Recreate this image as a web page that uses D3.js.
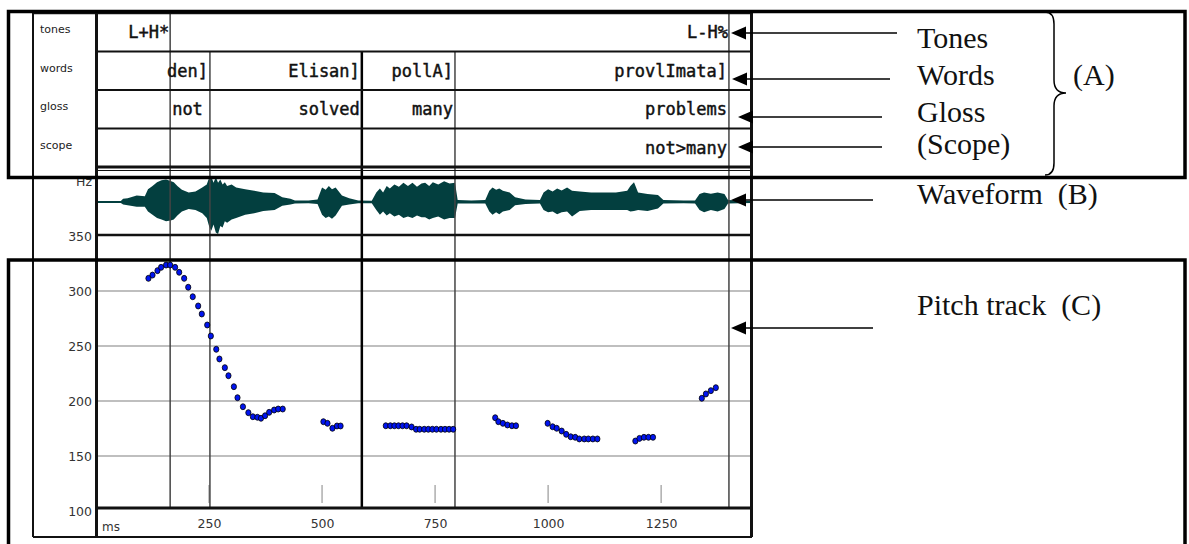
<!DOCTYPE html>
<html>
<head>
<meta charset="utf-8">
<script src="https://cdn.jsdelivr.net/npm/d3@7"></script>
<style>
body { margin: 0; background: #fff; }
svg { display: block; }
</style>
</head>
<body>
<div id="chart"></div>
<script>
// pitch track (ms, Hz)
let pitchMs = [116,125,136,144,155,164,175,184,195,204,214,226,234,246,254,266,273,285,293,305,313,325,337,347,357,365,374,383,394,403,413,
    503,512,523,533,541,
    641,651,660,669,678,687,698,708,716,726,735,744,753,763,772,781,790,
    883,890,900,910,920,929,
    999,1010,1019,1030,1040,1050,1060,1069,1080,1089,1099,1109,
    1193,1202,1212,1222,1232,
    1340,1349,1360,1371];
let pitchHz = [311.5,314.5,318.5,321.5,323.6,323.6,321.5,317,311.5,303.4,294.8,286.4,279.1,269.1,259.1,247,238.2,230.3,223,213,203,194.8,189.4,185.7,185.2,184.3,186.6,189.7,191.8,192.7,192.7,
    181.2,179.7,175.2,177.3,177.3,
    177.5,177.5,177.5,177.5,177.5,177.5,176.4,174.3,174.3,174.3,174.3,174.3,174.3,174.3,174.3,174.3,174.3,
    184.8,181.2,179.7,178.2,177.5,177.5,
    179.7,176.6,175.2,172.7,169.7,167.5,167,165.5,165.5,165.5,165.5,165.5,
    163.6,166,167,167,167,
    202.5,206.4,209.4,212.1];

// waveform envelope (relative amplitude, up / down)
let waveMs   = [0,55,60,70,90,108,115,125,135,145,155,165,172,180,190,205,220,235,245,250,255,260,265,270,275,280,285,290,300,310,330,350,370,395,412,430,440,470,490,500,508,515,522,530,544,560,580,610,620,628,635,643,650,660,670,680,690,700,710,720,728,737,745,757,770,782,794,800,830,861,870,877,885,892,900,915,927,950,982,990,1000,1010,1020,1030,1042,1053,1070,1095,1126,1150,1175,1182,1190,1199,1220,1243,1255,1300,1325,1335,1345,1360,1375,1390,1398,1451];
let waveUp   = [.03,.03,.1,.12,.2,.18,.4,.5,.62,.68,.7,.66,.62,.5,.38,.3,.33,.45,.55,.75,.8,.6,.78,.6,.7,.55,.62,.5,.55,.45,.4,.35,.3,.28,.15,.1,.05,.05,.08,.45,.38,.5,.4,.45,.2,.12,.05,.04,.3,.42,.3,.5,.42,.55,.48,.6,.5,.6,.48,.58,.6,.5,.62,.55,.65,.58,.6,.06,.05,.06,.35,.45,.38,.42,.35,.3,.15,.08,.06,.3,.4,.33,.42,.36,.45,.35,.33,.3,.3,.3,.35,.5,.62,.3,.25,.22,.06,.05,.05,.25,.3,.26,.3,.25,.06,.03];
let waveDown = [.03,.03,.08,.1,.15,.15,.3,.4,.5,.55,.6,.58,.55,.42,.3,.22,.25,.35,.5,.75,.9,.7,.95,1.0,.75,.8,.6,.65,.55,.5,.4,.35,.28,.25,.12,.08,.05,.04,.06,.4,.5,.45,.52,.42,.12,.08,.04,.04,.25,.4,.3,.42,.35,.45,.4,.5,.45,.5,.42,.48,.48,.55,.5,.45,.55,.5,.5,.05,.05,.05,.3,.4,.32,.38,.3,.25,.1,.06,.05,.25,.32,.3,.38,.32,.3,.45,.28,.25,.25,.25,.25,.3,.28,.25,.28,.2,.05,.04,.05,.25,.32,.25,.3,.22,.05,.03];

// text grid
let tierNames   = ["tones", "words", "gloss", "scope"];
let toneTimes   = [164, 1400];
let toneLabels  = ["L+H*", "L-H%"];
let wordBounds  = [164, 252, 588, 794, 1400];
let wordLabels  = ["den]", "Elisan]", "pollA]", "provlImata]"];
let glossLabels = ["not", "solved", "many", "problems"];
let scopeLabels = ["", "", "", "not>many"];

let hzTicks = [350, 300, 250, 200, 150, 100];
let msTicks = [250, 500, 750, 1000, 1250];

let notes = ["Tones", "Words", "Gloss", "(Scope)", "Waveform  (B)", "Pitch track  (C)"];


let svg = d3.select("#chart").append("svg")
    .attr("width", 1189)
    .attr("height", 544);

svg.append("rect").attr("width", 1189).attr("height", 544).attr("fill", "#fff");

let x = d3.scaleLinear().domain([0, 1451]).range([96, 752]);
let yHz = d3.scaleLinear().domain([100, 350]).range([511, 236]);
let yWave = d3.scaleLinear().domain([-1, 1]).range([234, 170]);
let row = d3.scaleBand().domain(tierNames).range([13, 167]);

// pitch grid lines
svg.append("g").selectAll("line")
    .data(hzTicks.filter(d => d > 100 && d < 350))
    .enter().append("line")
    .attr("x1", 97).attr("x2", 752)
    .attr("y1", d => yHz(d)).attr("y2", d => yHz(d))
    .attr("stroke", "#aaa").attr("stroke-width", 1.5);

// small time ticks inside the pitch panel
svg.append("g").selectAll("line")
    .data(msTicks)
    .enter().append("line")
    .attr("x1", d => x(d)).attr("x2", d => x(d))
    .attr("y1", 485).attr("y2", 503)
    .attr("stroke", "#999").attr("stroke-width", 1.2);

// waveform
let waveData = waveMs.map((d, i) => ({ms: d, up: waveUp[i], down: waveDown[i]}));
let waveArea = d3.area()
    .x(d => x(d.ms))
    .y0(d => yWave(-d.down))
    .y1(d => yWave(d.up));
svg.append("line")
    .attr("x1", 97).attr("x2", 752)
    .attr("y1", yWave(0)).attr("y2", yWave(0))
    .attr("stroke", "#033f3f").attr("stroke-width", 1.2);
svg.append("path")
    .datum(waveData)
    .attr("d", waveArea)
    .attr("fill", "#033f3f");

// interval boundaries
svg.append("g").selectAll("line")
    .data(toneTimes)
    .enter().append("line")
    .attr("x1", d => x(d)).attr("x2", d => x(d))
    .attr("y1", row("tones")).attr("y2", 508)
    .attr("stroke", "#444").attr("stroke-width", 1.5);
svg.append("g").selectAll("line")
    .data(wordBounds.filter(d => toneTimes.indexOf(d) < 0))
    .enter().append("line")
    .attr("x1", d => x(d)).attr("x2", d => x(d))
    .attr("y1", row("words")).attr("y2", 508)
    .attr("stroke", d => d === 588 ? "#000" : "#444")
    .attr("stroke-width", d => d === 588 ? 2.5 : 1.5);

// pitch points
let pitchData = pitchMs.map((d, i) => ({ms: d, hz: pitchHz[i]}));
svg.append("g").selectAll("ellipse")
    .data(pitchData)
    .enter().append("ellipse")
    .attr("cx", d => x(d.ms))
    .attr("cy", d => yHz(d.hz))
    .attr("rx", 2.6).attr("ry", 3)
    .attr("fill", "#0014f0")
    .attr("stroke", "#000").attr("stroke-width", 0.8);

// praat frame
let frame = svg.append("g").attr("stroke", "#111").attr("fill", "none");
frame.append("line").attr("x1", 33).attr("x2", 752).attr("y1", 13.5).attr("y2", 13.5).attr("stroke-width", 1.5);
frame.append("line").attr("x1", 33).attr("x2", 33).attr("y1", 13).attr("y2", 537).attr("stroke-width", 2);
frame.append("line").attr("x1", 96.5).attr("x2", 96.5).attr("y1", 13).attr("y2", 537).attr("stroke-width", 3);
frame.append("line").attr("x1", 751.5).attr("x2", 751.5).attr("y1", 13).attr("y2", 537).attr("stroke-width", 3);
frame.selectAll(".tier-sep")
    .data(tierNames.slice(1))
    .enter().append("line")
    .attr("x1", 97).attr("x2", 752)
    .attr("y1", d => row(d)).attr("y2", d => row(d))
    .attr("stroke-width", 2);
frame.append("line").attr("x1", 97).attr("x2", 752).attr("y1", 167).attr("y2", 167).attr("stroke-width", 3);
frame.append("line").attr("x1", 97).attr("x2", 752).attr("y1", 170.5).attr("y2", 170.5).attr("stroke-width", 1);
frame.append("line").attr("x1", 97).attr("x2", 752).attr("y1", 235).attr("y2", 235).attr("stroke-width", 2.5);
frame.append("line").attr("x1", 97).attr("x2", 752).attr("y1", 508).attr("y2", 508).attr("stroke-width", 3);
frame.append("line").attr("x1", 33).attr("x2", 752).attr("y1", 537).attr("y2", 537).attr("stroke-width", 2);

// tier names
svg.append("g").selectAll("text")
    .data(tierNames)
    .enter().append("text")
    .attr("x", 40)
    .attr("y", d => row(d) + 20)
    .attr("font-family", "DejaVu Sans")
    .attr("font-size", "11px")
    .attr("fill", "#222")
    .text(d => d);

// tier labels
let monoFont = "DejaVu Sans Mono";
svg.append("g").selectAll("text")
    .data(toneLabels)
    .enter().append("text")
    .attr("x", (d, i) => x(toneTimes[i]) - 1)
    .attr("y", row("tones") + 25)
    .attr("text-anchor", "end")
    .attr("font-family", monoFont).attr("font-size", "17px").attr("fill", "#111")
    .attr("stroke", "#111").attr("stroke-width", 0.45)
    .text(d => d);

[["words", wordLabels], ["gloss", glossLabels], ["scope", scopeLabels]].forEach(function(t) {
    svg.append("g").selectAll("text")
        .data(t[1])
        .enter().append("text")
        .attr("x", function(d, i) {
            if (t[0] === "gloss" && i === 0) return x(wordBounds[i]) + 2;
            return x(wordBounds[i + 1]) - 2;
        })
        .attr("y", row(t[0]) + 25)
        .attr("text-anchor", (d, i) => (t[0] === "gloss" && i === 0) ? "start" : "end")
        .attr("font-family", monoFont).attr("font-size", "17px").attr("fill", "#111")
        .attr("stroke", "#111").attr("stroke-width", 0.45)
        .text(d => d);
});

// axes
let yAxis = d3.axisLeft(yHz).tickValues(hzTicks).tickSize(0).tickPadding(4);
let gy = svg.append("g").attr("transform", "translate(96,0)").call(yAxis);
gy.select(".domain").remove();
gy.selectAll("text").attr("font-family", "DejaVu Sans").attr("font-size", "12.5px").attr("fill", "#333");

svg.append("text")
    .attr("x", 92).attr("y", 186)
    .attr("text-anchor", "end")
    .attr("font-family", "DejaVu Sans").attr("font-size", "12.5px").attr("fill", "#333")
    .text("Hz");

let xAxis = d3.axisBottom(x).tickValues(msTicks).tickSize(0).tickPadding(0).tickFormat(d3.format("d"));
let gx = svg.append("g").attr("transform", "translate(0,519)").call(xAxis);
gx.select(".domain").remove();
gx.selectAll("text").attr("font-family", "DejaVu Sans").attr("font-size", "12.5px").attr("fill", "#333");

svg.append("text")
    .attr("x", 102).attr("y", 531)
    .attr("font-family", "DejaVu Sans").attr("font-size", "12px").attr("fill", "#333")
    .text("ms");

// outer boxes (A) and (C)
svg.append("rect")
    .attr("x", 8.5).attr("y", 11.5).attr("width", 1176.5).attr("height", 166)
    .attr("fill", "none").attr("stroke", "#000").attr("stroke-width", 3.5);
svg.append("rect")
    .attr("x", 8.5).attr("y", 260).attr("width", 1176.5).attr("height", 320)
    .attr("fill", "none").attr("stroke", "#000").attr("stroke-width", 3.5);

// arrows and notes
let arrowY   = [33, 79, 117, 147, 200, 328];
let arrowX0  = [897, 890, 882, 882, 873, 873];
let arrowTip = [731, 732, 738, 738, 731, 731];
let noteY    = [48, 85, 122, 154, 204, 315];

let arrows = svg.append("g");
notes.forEach(function(n, i) {
    arrows.append("line")
        .attr("x1", arrowX0[i]).attr("x2", arrowTip[i] + 10)
        .attr("y1", arrowY[i]).attr("y2", arrowY[i])
        .attr("stroke", "#000").attr("stroke-width", 1.5);
    arrows.append("path")
        .attr("d", `M${arrowTip[i]},${arrowY[i]} L${arrowTip[i] + 15},${arrowY[i] - 6.5} L${arrowTip[i] + 15},${arrowY[i] + 6.5} Z`)
        .attr("fill", "#000");
});

svg.append("g").selectAll("text")
    .data(notes)
    .enter().append("text")
    .attr("x", 917)
    .attr("y", (d, i) => noteY[i])
    .attr("font-family", "Liberation Serif").attr("font-size", "30px").attr("fill", "#111")
    .style("white-space", "pre")
    .text(d => d);

// brace for (A)
svg.append("path")
    .attr("d", "M1045,12 Q1054,12 1054,24 L1054,80 Q1054,93 1066,93 Q1054,93 1054,106 L1054,163 Q1054,175 1045,175")
    .attr("fill", "none").attr("stroke", "#000").attr("stroke-width", 1.5);
svg.append("text")
    .attr("x", 1073).attr("y", 85)
    .attr("font-family", "Liberation Serif").attr("font-size", "30px").attr("fill", "#111")
    .text("(A)");
</script>
</body>
</html>
